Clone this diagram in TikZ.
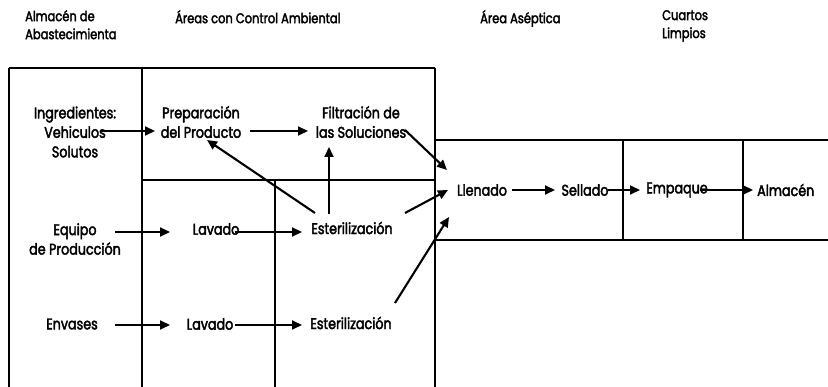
\documentclass[tikz,border=0pt]{standalone}
\usepackage{fontspec}
\setmainfont{Poppins}[FakeStretch=0.82,FakeBold=2.5]
\usetikzlibrary{calc,arrows.meta}
\begin{document}
\begin{tikzpicture}[x=1pt,y=-1pt,
  frame/.style={line width=1.7pt},
  arr/.style={line width=2.1pt,-{Triangle[length=10pt,width=9pt]}},
  lbl/.style={font=\fontsize{15.5}{19.5}\selectfont,inner sep=0pt,align=center},
  hdr/.style={font=\fontsize{14}{18}\selectfont,inner sep=0pt,align=left,anchor=north west}]
\useasboundingbox (0,0) rectangle (828,387);

% column headings
\node[hdr] (h1) at (25,10) {Almacén de\\Abastecimienta};
\node[hdr] (h2) at (175,10) {Áreas con Control Ambiental};
\node[hdr] (h3) at (480,10) {Área Aséptica};
\node[hdr] (h4) at (662,10) {Cuartos\\Limpios};

% area grid
\draw[frame] (9,68) -- (435,68);
\draw[frame] (9,68) -- (9,387);
\draw[frame] (142,68) -- (142,387);
\draw[frame] (435,68) -- (435,387);
\draw[frame] (142,180) -- (435,180);
\draw[frame] (275,180) -- (275,387);
\draw[frame] (435,140) -- (828,140);
\draw[frame] (435,240) -- (828,240);
\draw[frame] (623,140) -- (623,240);
\draw[frame] (743,140) -- (743,240);

% process steps
\node[lbl] (ing) at (75,132) {Ingredientes:\\Vehiculos\\Solutos};
\node[lbl] (prep) at (201,122) {Preparación\\del Producto};
\node[lbl] (filt) at (361,122) {Filtración de\\las Soluciones};
\node[lbl] (equipo) at (75,239) {Equipo\\de Producción};
\node[lbl] (lav1) at (216,229) {Lavado};
\node[lbl] (est1) at (352,228) {Esterilización};
\node[lbl] (env) at (72,324) {Envases};
\node[lbl] (lav2) at (210,324) {Lavado};
\node[lbl] (est2) at (351,323) {Esterilización};
\node[lbl] (llen) at (482,190) {Llenado};
\node[lbl] (sell) at (585,190) {Sellado};
\node[lbl] (emp) at (677,190) {Empaque};
\node[lbl,anchor=west] (alm) at (757,190) {Almacén};

% flow
\draw[arr] ($(ing)+(25,-1)$) -- ($(prep)+(-46,9)$);
\draw[arr] ($(prep)+(49,9)$) -- ($(filt)+(-53,9)$);
\draw[arr] ($(filt)+(44,8)$) -- ($(llen)+(-35,-20)$);
\draw[arr] ($(est1)+(53,-15)$) -- ($(llen)+(-34,0)$);
\draw[arr] ($(est2)+(44,-20)$) -- ($(llen)+(-33,27)$);
\draw[arr] ($(est1)+(-37,-15)$) -- ($(prep)+(6,18)$);
\draw[arr] ($(est1)+(-23,-14)$) -- ($(filt)+(-32,25)$);
\draw[arr] ($(equipo)+(40,-7)$) -- ($(lav1)+(-46,3)$);
\draw[arr] ($(lav1)+(19,3)$) -- ($(est1)+(-50,4)$);
\draw[arr] ($(env)+(43,1)$) -- ($(lav2)+(-40,1)$);
\draw[arr] ($(lav2)+(25,1)$) -- ($(est2)+(-49,2)$);
\draw[arr] ($(llen)+(30,0)$) -- ($(sell)+(-30,0)$);
\draw[arr] ($(sell)+(23,0)$) -- ($(emp)+(-37,0)$);
\draw[arr] ($(emp)+(23,0)$) -- ($(alm.west)+(-4,0)$);
\end{tikzpicture}
\end{document}
